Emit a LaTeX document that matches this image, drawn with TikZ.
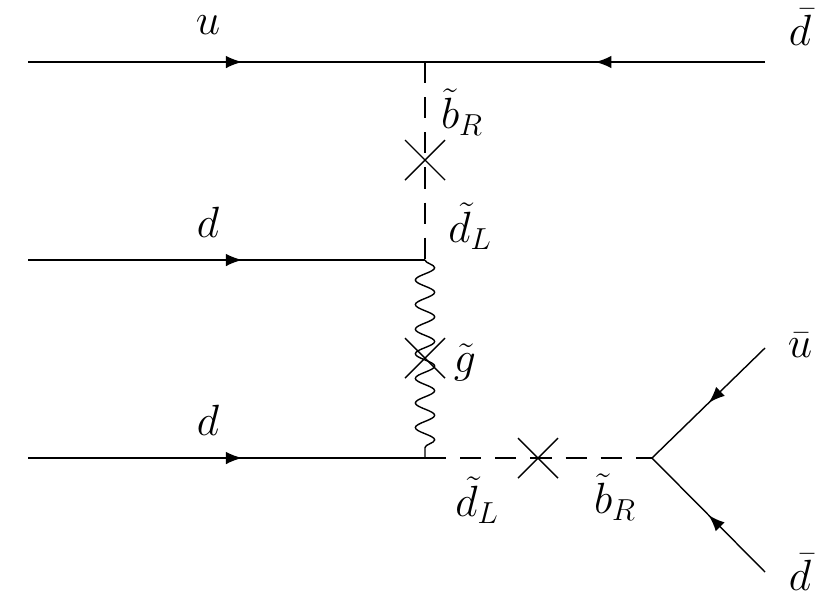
\documentclass[tikz,border=0pt]{standalone}
\usetikzlibrary{decorations.pathmorphing,decorations.markings,calc}
\tikzset{
  fermion/.style={thick, postaction={decorate}, decoration={markings, mark=at position #1 with {\arrow[scale=1.8]{latex}}}},
  scalar/.style={thick, dashed, dash pattern=on 12pt off 8pt},
  gluon/.style={thick, decorate, decoration={snake, amplitude=5.5pt, segment length=14pt}},
  lbl/.style={font=\fontsize{26}{30}\selectfont, inner sep=1pt}
}
\newcommand{\massins}[1]{\draw[thick] ($(#1)+(-20,-20)$) -- ($(#1)+(20,20)$) ($(#1)+(-20,20)$) -- ($(#1)+(20,-20)$);}
\begin{document}
\begin{tikzpicture}[x=0.02cm, y=-0.02cm]
    \useasboundingbox (0,0) rectangle (830,600);

    % vertices and external ends
    \coordinate (uin) at (28,62);
    \coordinate (dbin) at (765,62);
    \coordinate (vtop) at (425,62);
    \coordinate (d1in) at (28,260);
    \coordinate (vmid) at (425,260);
    \coordinate (d2in) at (28,458);
    \coordinate (vbot) at (425,458);
    \coordinate (vdec) at (652,458);
    \coordinate (ubout) at (765,348);
    \coordinate (dbout) at (765,572);
    \coordinate (xsq) at (425,160);
    \coordinate (xgl) at (425,358);
    \coordinate (xbot) at (538,458);

    % quark lines
    \draw[fermion=0.54] (uin) -- (vtop);
    \draw[fermion=0.5] (dbin) -- (vtop);
    \draw[fermion=0.54] (d1in) -- (vmid);
    \draw[fermion=0.54] (d2in) -- (vbot);
    \draw[fermion=0.5] (ubout) -- (vdec);
    \draw[fermion=0.5] (dbout) -- (vdec);

    % squarks and gluino
    \draw[scalar] (vtop) -- (vmid);
    \draw[gluon] (vmid) -- (vbot);
    \draw[scalar] (vbot) -- (vdec);
    \massins{xsq}
    \massins{xgl}
    \massins{xbot}

    % labels
    \node[lbl] (lu) at (208,25) {$u$};
    \node[lbl] (ldb) at (800,27) {$\bar d$};
    \node[lbl] (lbr1) at (462,112) {$\tilde b_R$};
    \node[lbl] (ldl1) at (470,226) {$\tilde d_L$};
    \node[lbl] (ld1) at (208,222) {$d$};
    \node[lbl] (lg) at (465,362) {$\tilde g$};
    \node[lbl] (ld2) at (208,420) {$d$};
    \node[lbl] (ldl2) at (477,500) {$\tilde d_L$};
    \node[lbl] (lbr2) at (615,497) {$\tilde b_R$};
    \node[lbl] (lub) at (800,345) {$\bar u$};
    \node[lbl] (ldb2) at (800,572) {$\bar d$};
\end{tikzpicture}
\end{document}
